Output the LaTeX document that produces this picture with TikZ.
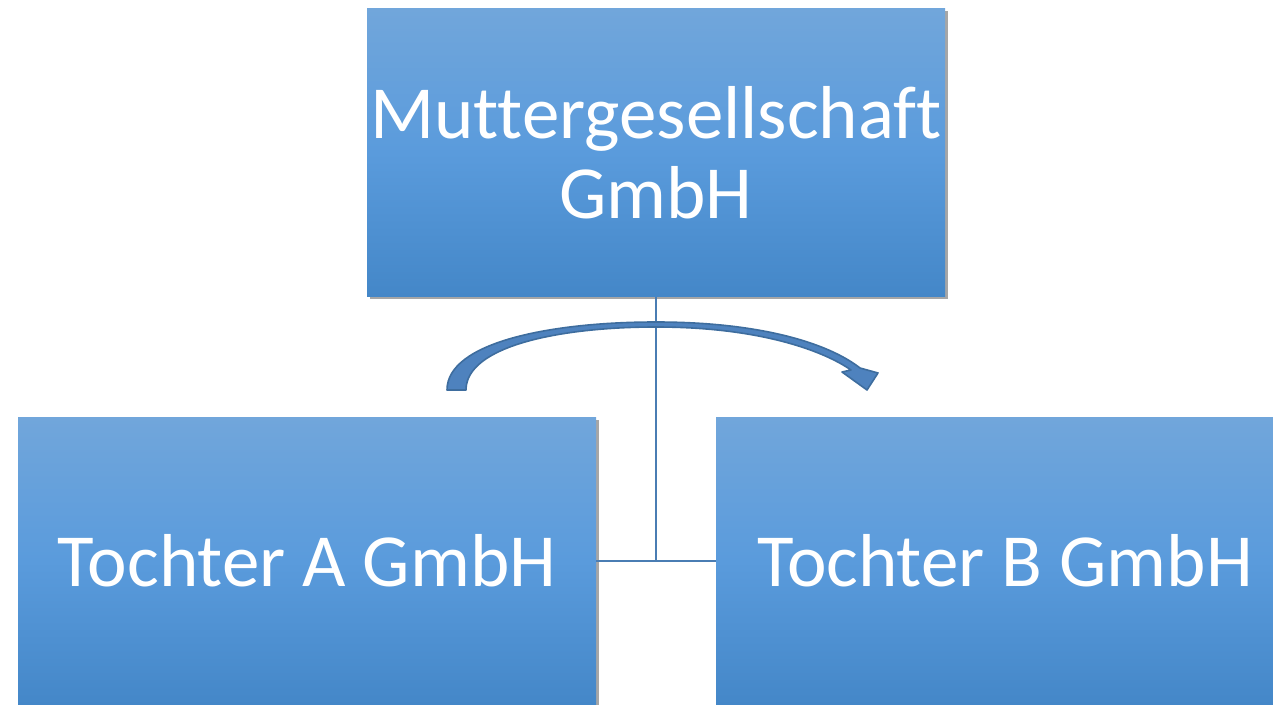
\documentclass[tikz,border=0pt]{standalone}
\usepackage{fontspec}
\setmainfont[Ligatures={NoCommon,NoRequired,NoContextual}]{Carlito}
\usepackage{tikz}
\usetikzlibrary{positioning,shadows}
\definecolor{boxtop}{HTML}{71A6DB}
\definecolor{boxmid}{HTML}{5A9BDC}
\definecolor{boxbot}{HTML}{4487C8}
\definecolor{link}{HTML}{4A7DB3}
\definecolor{arrfill}{HTML}{4E82BE}
\definecolor{arrdraw}{HTML}{3E6D9E}
\tikzset{
  firm/.style={rectangle, top color=boxtop, bottom color=boxbot, middle color=boxmid,
    minimum width=289pt, minimum height=144pt, inner sep=0pt, align=center,
    text=white, font=\fontsize{37.5}{40}\selectfont,
    drop shadow={shadow xshift=1.5pt, shadow yshift=-1.5pt, opacity=0.35, fill=black}},
  conn/.style={draw=link, line width=1.4pt},
  turn/.style={fill=arrfill, draw=arrdraw, line width=0.8pt, line join=round},
}

\begin{document}
\begin{tikzpicture}[x=0.5pt, y=-0.5pt]
\useasboundingbox (0,0) rectangle (1273,705);
\clip (0,0) rectangle (1273,705);
\node[firm] (mutter) at (656,152.5) {Muttergesellschaft\\GmbH};
\node[firm] (tochterA) at (307,561) {Tochter A GmbH};
\node[firm] (tochterB) at (1005,561) {Tochter B GmbH};

% Beteiligungslinien
\coordinate (knot) at (mutter.south |- tochterA.east);
\draw[conn] (mutter.south) -- (knot);
\draw[conn] (tochterA.east) -- (tochterB.west);

% Bogenpfeil
\filldraw[turn] (447,390) .. controls (447,342) and (552,322) .. (656,322)
  .. controls (760,322) and (828,343) .. (860,368)
  -- (878,373) -- (867,390) -- (842,372) -- (851,370)
  .. controls (822,350) and (758,327) .. (656,327)
  .. controls (560,327) and (466,346) .. (466,390) -- cycle;
\end{tikzpicture}
\end{document}
